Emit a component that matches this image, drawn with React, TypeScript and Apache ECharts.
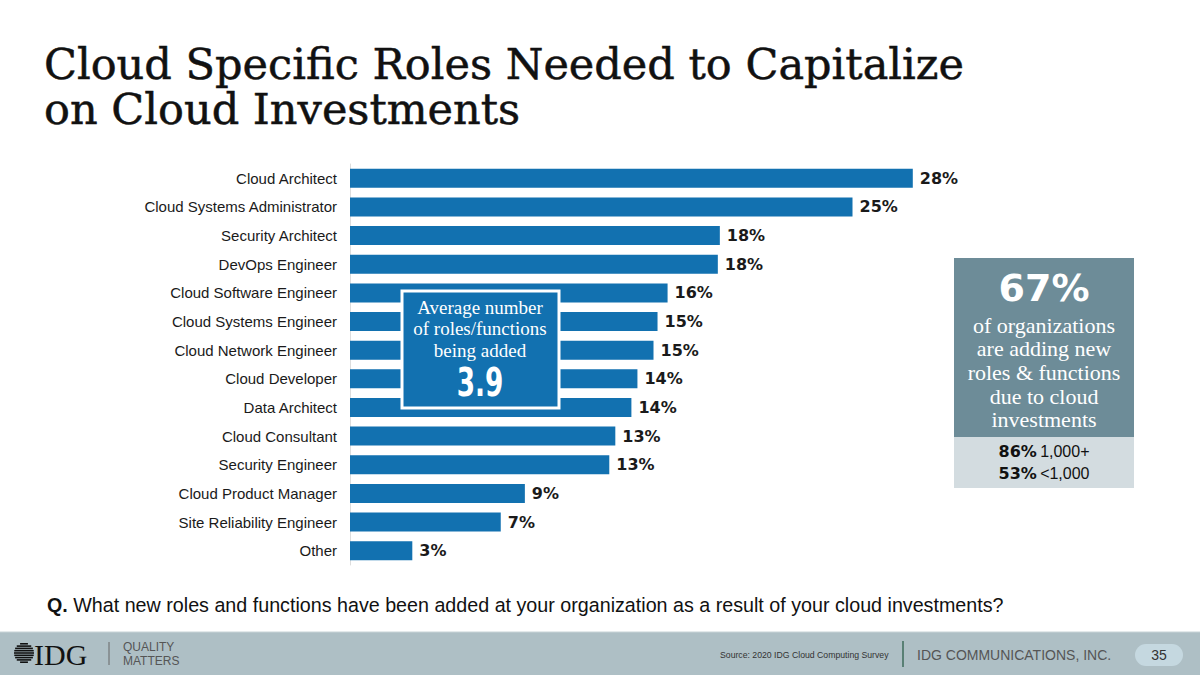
import React, { useEffect, useRef } from "react";
import * as echarts from "echarts";

const categories = [
  "Cloud Architect",
  "Cloud Systems Administrator",
  "Security Architect",
  "DevOps Engineer",
  "Cloud Software Engineer",
  "Cloud Systems Engineer",
  "Cloud Network Engineer",
  "Cloud Developer",
  "Data Architect",
  "Cloud Consultant",
  "Security Engineer",
  "Cloud Product Manager",
  "Site Reliability Engineer",
  "Other",
];
const values = [28, 25, 18.4, 18.3, 15.8, 15.3, 15.1, 14.3, 14.0, 13.2, 12.9, 8.7, 7.5, 3.1];
const valueLabels = ["28%", "25%", "18%", "18%", "16%", "15%", "15%", "14%", "14%", "13%", "13%", "9%", "7%", "3%"];

const titleLines = ["Cloud Specific Roles Needed to Capitalize", "on Cloud Investments"];
const avgLines = ["Average number", "of roles/functions", "being added"];
const avgValue = "3.9";
const sideHeadline = "67%";
const sideLines = ["of organizations", "are adding new", "roles & functions", "due to cloud", "investments"];
const sideStats = [
  { pct: "86%", label: "1,000+" },
  { pct: "53%", label: "<1,000" },
];
const questionLead = "Q.";
const questionText = " What new roles and functions have been added at your organization as a result of your cloud investments?";
const sourceText = "Source: 2020 IDG Cloud Computing Survey";
const companyText = "IDG COMMUNICATIONS, INC.";
const pageNumber = "35";

const BLUE = "#1271b0";
const SERIF = "'Liberation Serif', 'DejaVu Serif', serif";
const DSERIF = "'DejaVu Serif', serif";
const SANS = "'Liberation Sans', Arial, sans-serif";
const HEAVY = "'DejaVu Sans', 'Liberation Sans', sans-serif";

export default function App() {
  const ref = useRef<HTMLDivElement>(null);
  useEffect(() => {
    if (!ref.current) return;
    const chart = echarts.init(ref.current, null, { renderer: "svg" });

    const graphics: any[] = [];
    titleLines.forEach((t, i) => {
      graphics.push({
        type: "text",
        x: 44,
        y: 65 + i * 45,
        scaleX: 1.025,
        originX: 0,
        style: {
          text: t,
          font: `42px ${DSERIF}`,
          fill: "#111",
          stroke: "#111",
          lineWidth: 0.5,
          verticalAlign: "middle",
          align: "left",
        },
      });
    });

    // Average box
    graphics.push({
      type: "rect",
      shape: { x: 402, y: 291, width: 157, height: 117 },
      style: { fill: BLUE, stroke: "#fff", lineWidth: 3 },
      z: 10,
    });
    avgLines.forEach((t, i) => {
      graphics.push({
        type: "text",
        x: 480,
        y: 307 + i * 21.5,
        z: 11,
        style: { text: t, font: `19px ${SERIF}`, fill: "#fff", align: "center", verticalAlign: "middle" },
      });
    });
    graphics.push({
      type: "text",
      x: 480,
      y: 382,
      z: 11,
      scaleX: 0.75,
      originX: 0,
      style: {
        text: avgValue,
        font: `bold 39px 'DejaVu Sans Condensed', ${SANS}`,
        fill: "#fff",
        align: "center",
        verticalAlign: "middle",
      },
    });

    // Side box
    graphics.push({ type: "rect", shape: { x: 954, y: 258, width: 180, height: 179 }, style: { fill: "#6d8c98" } });
    graphics.push({ type: "rect", shape: { x: 954, y: 437, width: 180, height: 51 }, style: { fill: "#d3dce0" } });
    graphics.push({
      type: "text",
      x: 1044,
      y: 288,
      style: { text: sideHeadline, font: `bold 38px ${HEAVY}`, fill: "#fff", align: "center", verticalAlign: "middle" },
    });
    sideLines.forEach((t, i) => {
      graphics.push({
        type: "text",
        x: 1044,
        y: 325 + i * 23.7,
        style: { text: t, font: `22px ${SERIF}`, fill: "#fff", align: "center", verticalAlign: "middle" },
      });
    });
    sideStats.forEach((s, i) => {
      graphics.push({
        type: "text",
        x: 1044,
        y: 451 + i * 22,
        style: {
          text: `{b|${s.pct}} {n|${s.label}}`,
          align: "center",
          verticalAlign: "middle",
          rich: {
            b: { font: `bold 16px ${HEAVY}`, fill: "#111" },
            n: { font: `16px ${SANS}`, fill: "#111" },
          },
        },
      });
    });

    // Question
    graphics.push({
      type: "text",
      x: 47,
      y: 605,
      style: {
        text: `{b|${questionLead}}{n|${questionText}}`,
        verticalAlign: "middle",
        rich: {
          b: { font: `bold 19.7px ${SANS}`, fill: "#111" },
          n: { font: `19.7px ${SANS}`, fill: "#111" },
        },
      },
    });

    // Footer
    graphics.push({ type: "rect", shape: { x: 0, y: 632, width: 1200, height: 43 }, style: { fill: "#aebfc5" } });
    graphics.push({ type: "line", shape: { x1: 0, y1: 632, x2: 1200, y2: 632 }, style: { stroke: "#c7d3d7", lineWidth: 1 } });
    const cx = 24, cy = 653, r = 10;
    for (let k = -4; k <= 4; k++) {
      const yy = cy + k * 2.3;
      const half = Math.sqrt(Math.max(0, r * r - (k * 2.3) * (k * 2.3)));
      graphics.push({
        type: "line",
        shape: { x1: cx - half, y1: yy, x2: cx + half, y2: yy },
        style: { stroke: "#111", lineWidth: 1.6 },
      });
    }
    graphics.push({
      type: "text",
      x: 34,
      y: 654,
      style: { text: "IDG", font: `30px ${SERIF}`, fill: "#111", verticalAlign: "middle" },
    });
    graphics.push({ type: "line", shape: { x1: 109, y1: 642, x2: 109, y2: 665 }, style: { stroke: "#666", lineWidth: 1 } });
    graphics.push({
      type: "text",
      x: 123,
      y: 647,
      style: { text: "QUALITY", font: `12px ${SANS}`, fill: "#555", verticalAlign: "middle" },
    });
    graphics.push({
      type: "text",
      x: 123,
      y: 661,
      style: { text: "MATTERS", font: `12px ${SANS}`, fill: "#555", verticalAlign: "middle" },
    });
    graphics.push({
      type: "text",
      x: 720,
      y: 655,
      style: { text: sourceText, font: `8.7px ${SANS}`, fill: "#333", verticalAlign: "middle" },
    });
    graphics.push({ type: "line", shape: { x1: 903, y1: 641, x2: 903, y2: 667 }, style: { stroke: "#3d6b5a", lineWidth: 1.5 } });
    graphics.push({
      type: "text",
      x: 917,
      y: 655,
      style: { text: companyText, font: `14px ${SANS}`, fill: "#555", verticalAlign: "middle" },
    });
    graphics.push({
      type: "rect",
      shape: { x: 1135, y: 644, width: 48, height: 22, r: 11 },
      style: { fill: "#c5d8e0" },
    });
    graphics.push({
      type: "text",
      x: 1159,
      y: 655,
      style: { text: pageNumber, font: `14px ${SANS}`, fill: "#333", align: "center", verticalAlign: "middle" },
    });

    chart.setOption({
      animation: false,
      backgroundColor: "#fff",
      grid: { left: 350, top: 164, width: 603, height: 401, containLabel: false },
      xAxis: {
        type: "value",
        min: 0,
        max: 30,
        show: false,
      },
      yAxis: {
        type: "category",
        data: categories,
        inverse: true,
        axisLine: { show: true, lineStyle: { color: "#dddddd", width: 1 } },
        axisTick: { show: false },
        axisLabel: { color: "#1a1a1a", fontSize: 15, fontFamily: SANS, margin: 13 },
        splitLine: { show: false },
      },
      series: [
        {
          type: "bar",
          data: values,
          barWidth: 19,
          itemStyle: { color: BLUE },
          label: {
            show: true,
            position: "right",
            distance: 7,
            formatter: (p: any) => valueLabels[p.dataIndex],
            color: "#1a1a1a",
            fontSize: 16,
            fontWeight: "bold",
            fontFamily: HEAVY,
          },
        },
      ],
      graphic: graphics,
    });
    return () => chart.dispose();
  }, []);
  return <div ref={ref} style={{ position: "absolute", left: 0, top: 0, width: 1200, height: 675 }} />;
}
